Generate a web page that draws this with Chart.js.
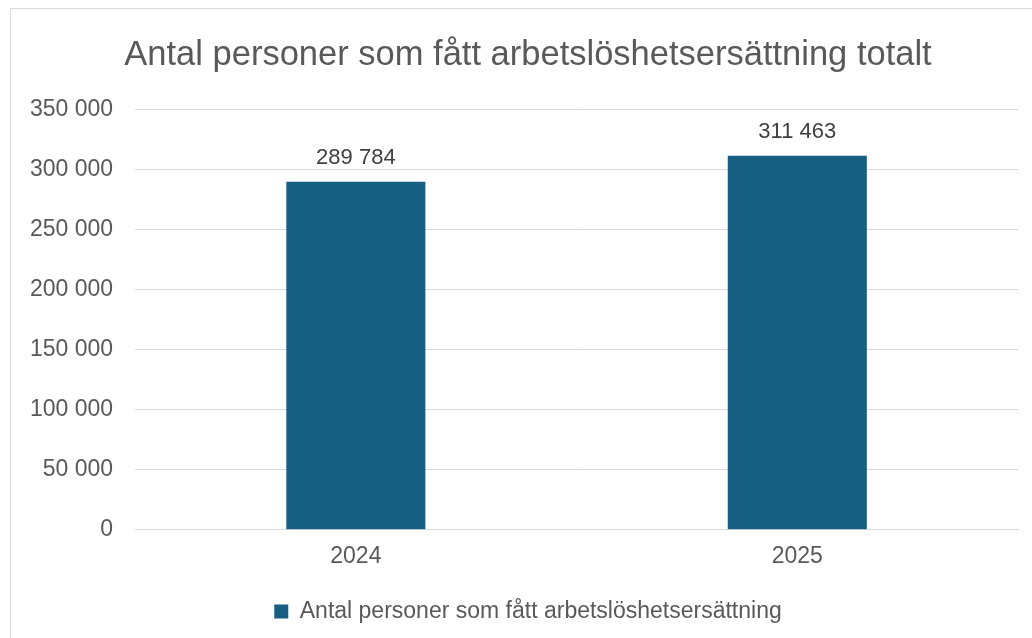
<!DOCTYPE html>
<html>
<head>
<meta charset="utf-8">
<script src="https://cdn.jsdelivr.net/npm/chart.js@4.4.1/dist/chart.umd.min.js"></script>
<style>
  body { margin: 0; background: #fff; width: 1032px; height: 638px; overflow: hidden; position: relative; }
  #frame { position: absolute; left: 10px; top: 8px; width: 1030px; height: 640px; border: 1px solid #d9d9d9; }
  #chart { position: absolute; left: 0; top: 0; }
</style>
</head>
<body>
<div id="frame"></div>
<canvas id="chart" width="1062" height="638"></canvas>
<script>
// Dati del grafico
const years = ['2024', '2025'];
const persons = [289784, 311463];
const seriesName = 'Antal personer som fått arbetslöshetsersättning';
const chartTitle = 'Antal personer som fått arbetslöshetsersättning totalt';

const FONT = '"Liberation Sans", Arial, sans-serif';

// Formatta numeri con spazio come separatore delle migliaia
function fmt(v) {
    return String(v).replace(/\B(?=(\d{3})+(?!\d))/g, ' ');
}

// Etichette dei valori sopra le barre
const valueLabels = {
    id: 'valueLabels',
    afterDatasetsDraw(chart) {
        const ctx = chart.ctx;
        const meta = chart.getDatasetMeta(0);
        ctx.save();
        ctx.font = '22px ' + FONT;
        ctx.fillStyle = '#404040';
        ctx.textAlign = 'center';
        ctx.textBaseline = 'middle';
        meta.data.forEach((bar, i) => {
            ctx.fillText(fmt(persons[i]), bar.x, bar.y - 24);
        });
        ctx.restore();
    }
};

new Chart(document.getElementById('chart').getContext('2d'), {
    type: 'bar',
    data: {
        labels: years,
        datasets: [{
            label: seriesName,
            data: persons,
            backgroundColor: '#175f82',
            categoryPercentage: 1,
            barPercentage: 0.315
        }]
    },
    options: {
        responsive: false,
        animation: false,
        layout: { padding: { left: 8, right: 14, top: 0, bottom: 5 } },
        plugins: {
            title: {
                display: true,
                text: chartTitle,
                color: '#595959',
                font: { family: FONT, size: 34.5, weight: 'normal' },
                padding: { top: 35, bottom: 33 }
            },
            legend: {
                position: 'bottom',
                labels: {
                    color: '#595959',
                    font: { family: FONT, size: 23 },
                    boxWidth: 14,
                    boxHeight: 14,
                    padding: 14.7
                }
            },
            tooltip: { enabled: false }
        },
        scales: {
            x: {
                grid: { display: false },
                border: { color: '#d9d9d9' },
                ticks: {
                    color: '#595959',
                    font: { family: FONT, size: 23 },
                    padding: 5
                },
                afterFit: scale => { scale.height += 10; }
            },
            y: {
                min: 0,
                max: 350000,
                grid: { color: '#d9d9d9', drawTicks: false },
                border: { display: false },
                ticks: {
                    stepSize: 50000,
                    color: '#595959',
                    font: { family: FONT, size: 23 },
                    padding: 22,
                    callback: v => fmt(v)
                }
            },
            // asse vuoto a destra, serve solo per lo spazio (la tela è più larga della pagina)
            yRight: {
                position: 'right',
                min: 0,
                max: 350000,
                grid: { drawOnChartArea: false, drawTicks: false },
                border: { display: false },
                ticks: { display: false },
                afterFit: scale => { scale.width = 30; }
            }
        }
    },
    plugins: [valueLabels]
});
</script>
</body>
</html>
